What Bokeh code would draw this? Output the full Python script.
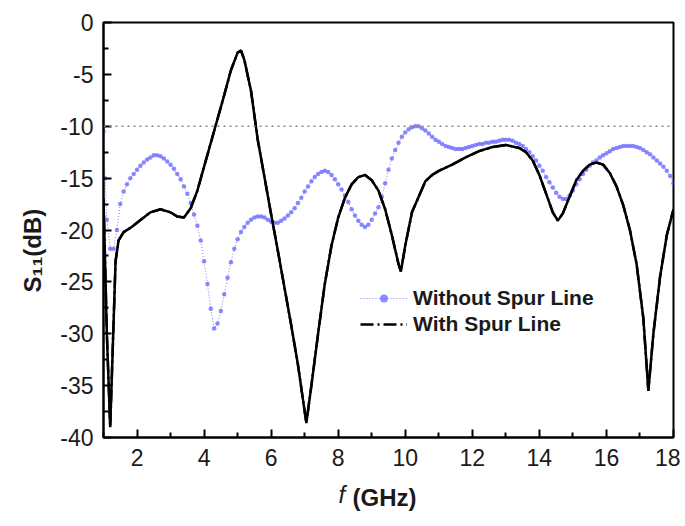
from bokeh.plotting import figure
from bokeh.models import (Range1d, Legend, LegendItem, Span, Label, FixedTicker,
                          ColumnDataSource, Title)
from bokeh.embed import file_html
from bokeh.resources import INLINE

# ---------------- data ----------------
freq_without = [1.0, 1.05, 1.1, 1.2, 1.3, 1.4, 1.5, 1.6, 1.7, 1.8, 1.9,
                2.0, 2.1, 2.2, 2.3, 2.4, 2.5, 2.6, 2.7, 2.8, 2.9,
                3.0, 3.1, 3.2, 3.3, 3.4, 3.5, 3.6, 3.7, 3.8, 3.9,
                4.0, 4.1, 4.2, 4.3, 4.4, 4.5, 4.6, 4.7, 4.8, 4.9,
                5.0, 5.1, 5.2, 5.3, 5.4, 5.5, 5.6, 5.7, 5.8, 5.9,
                6.0, 6.1, 6.2, 6.3, 6.4, 6.5, 6.6, 6.7, 6.8, 6.9,
                7.0, 7.1, 7.2, 7.3, 7.4, 7.5, 7.6, 7.7, 7.8, 7.9,
                8.0, 8.1, 8.2, 8.3, 8.4, 8.5, 8.6, 8.7, 8.8, 8.9,
                9.0, 9.1, 9.2, 9.3, 9.4, 9.5, 9.6, 9.7, 9.8, 9.9,
                10.0, 10.1, 10.2, 10.3, 10.4, 10.5, 10.6, 10.7, 10.8, 10.9,
                11.0, 11.1, 11.2, 11.3, 11.4, 11.5, 11.6, 11.7, 11.8, 11.9,
                12.0, 12.1, 12.2, 12.3, 12.4, 12.5, 12.6, 12.7, 12.8, 12.9,
                13.0, 13.1, 13.2, 13.3, 13.4, 13.5, 13.6, 13.7, 13.8, 13.9,
                14.0, 14.1, 14.2, 14.3, 14.4, 14.5, 14.6, 14.7, 14.8, 14.9,
                15.0, 15.1, 15.2, 15.3, 15.4, 15.5, 15.6, 15.7, 15.8, 15.9,
                16.0, 16.1, 16.2, 16.3, 16.4, 16.5, 16.6, 16.7, 16.8, 16.9,
                17.0, 17.1, 17.2, 17.3, 17.4, 17.5, 17.6, 17.7, 17.8, 17.9,
                18.0]
s11_without = [-10.5, -15.0, -19.0, -21.8, -21.8, -20.0, -17.5, -16.3, -15.6, -15.0, -14.6,
               -14.2, -13.8, -13.5, -13.2, -13.0, -12.8, -12.8, -12.9, -13.1, -13.4,
               -13.7, -14.1, -14.6, -15.1, -15.8, -16.5, -17.4, -18.5, -19.6, -21.0,
               -23.0, -25.2, -27.6, -29.5, -29.0, -27.8, -26.2, -24.6, -23.1, -21.8,
               -20.9, -20.2, -19.7, -19.3, -19.0, -18.8, -18.7, -18.7, -18.8, -19.0,
               -19.2, -19.3, -19.3, -19.1, -18.9, -18.6, -18.3, -17.9, -17.4, -16.9,
               -16.3, -15.8, -15.3, -14.9, -14.6, -14.4, -14.3, -14.4, -14.7, -15.1,
               -15.6, -16.1, -16.7, -17.3, -18.0, -18.6, -19.1, -19.5, -19.7, -19.5,
               -19.0, -18.4, -17.8, -16.8, -15.5, -14.2, -13.1, -12.3, -11.6, -11.0,
               -10.6, -10.3, -10.1, -10.0, -10.0, -10.2, -10.4, -10.7, -11.0, -11.3,
               -11.5, -11.7, -11.9, -12.0, -12.1, -12.2, -12.2, -12.2, -12.1, -12.0,
               -11.9, -11.8, -11.7, -11.7, -11.6, -11.6, -11.5, -11.5, -11.4, -11.3,
               -11.3, -11.3, -11.4, -11.6, -11.7, -11.9, -12.2, -12.5, -12.9, -13.3,
               -13.8, -14.3, -14.9, -15.4, -15.9, -16.4, -16.8, -17.0, -17.0, -16.7,
               -16.2, -15.6, -15.1, -14.6, -14.2, -13.8, -13.5, -13.3, -13.0, -12.8,
               -12.6, -12.4, -12.2, -12.1, -12.0, -11.9, -11.9, -11.9, -11.9, -12.0,
               -12.1, -12.3, -12.5, -12.7, -13.0, -13.3, -13.6, -13.9, -14.3, -14.8,
               -15.5]

freq_with = [1.0, 1.1, 1.2, 1.28, 1.36, 1.45, 1.6, 1.8, 2.0, 2.2, 2.4, 2.7,
             3.0, 3.2, 3.4, 3.6, 3.8, 4.0, 4.2, 4.4, 4.6, 4.8, 5.0, 5.1,
             5.2, 5.4, 5.6, 5.8, 6.0, 6.2, 6.4, 6.6, 6.8, 7.0, 7.05, 7.2,
             7.4, 7.6, 7.8, 8.0, 8.2, 8.4, 8.6, 8.8, 9.0, 9.2, 9.4, 9.6,
             9.8, 9.87, 10.0, 10.2, 10.4, 10.6, 10.8, 11.0, 11.4, 11.8, 12.2, 12.6,
             13.0, 13.4, 13.6, 13.8, 14.0, 14.2, 14.4, 14.55, 14.7, 14.9, 15.1, 15.3,
             15.5, 15.7, 15.9, 16.1, 16.3, 16.5, 16.7, 16.9, 17.1, 17.25, 17.4, 17.6,
             17.8, 18.0]
s11_with = [-17.0, -30.0, -39.0, -31.0, -23.0, -21.0, -20.2, -19.8, -19.3, -18.8, -18.3, -18.0,
            -18.3, -18.7, -18.8, -17.9, -16.2, -13.9, -11.6, -9.3, -7.0, -4.6, -2.9, -2.7,
            -3.6, -6.6, -11.3, -14.9, -18.5, -22.0, -25.6, -29.2, -33.0, -37.5, -38.6, -35.0,
            -30.0, -25.2, -21.5, -18.8, -16.9, -15.6, -14.9, -14.7, -15.2, -16.2, -18.0, -20.5,
            -23.3, -24.0, -21.5, -18.3, -16.8, -15.3, -14.7, -14.3, -13.7, -13.0, -12.4, -12.0,
            -11.8, -12.1, -12.5, -13.3, -14.7, -16.5, -18.3, -19.1, -18.4, -16.8, -15.2, -14.3,
            -13.7, -13.5, -13.7, -14.5, -15.8, -17.6, -20.0, -23.3, -28.5, -35.5, -30.0, -24.5,
            -20.5, -18.0]

reference_level = -10
x_major = [2, 4, 6, 8, 10, 12, 14, 16, 18]
x_minor = [1, 3, 5, 7, 9, 11, 13, 15, 17]
y_major = [0, -5, -10, -15, -20, -25, -30, -35, -40]
y_minor = [-2.5, -7.5, -12.5, -17.5, -22.5, -27.5, -32.5, -37.5]
series_names = ["Without Spur Line", "With Spur Line"]

FONT = "Liberation Sans"
TXT = "#1a1a1a"
W, H = 680, 522

p = figure(width=W, height=H, output_backend="svg", toolbar_location=None,
           x_range=Range1d(1, 18), y_range=Range1d(-40, 0),
           min_border_left=103, min_border_top=22, min_border_right=7,
           min_border_bottom=85)
p.xgrid.visible = False
p.ygrid.visible = False
p.outline_line_color = "black"
p.outline_line_width = 2
p.background_fill_color = "white"
p.border_fill_color = "white"

for ax in (p.xaxis[0], p.yaxis[0]):
    ax.axis_line_width = 2
    ax.axis_line_color = "black"
    ax.major_tick_in = 8
    ax.major_tick_out = 0
    ax.minor_tick_in = 5
    ax.minor_tick_out = 0
    ax.major_tick_line_width = 2
    ax.minor_tick_line_width = 2
    ax.major_tick_line_color = "black"
    ax.minor_tick_line_color = "black"
    ax.major_label_text_font = FONT
    ax.major_label_text_font_size = "23px"
    ax.major_label_text_color = TXT

p.xaxis.ticker = FixedTicker(ticks=x_major, minor_ticks=x_minor)
p.yaxis.ticker = FixedTicker(ticks=y_major, minor_ticks=y_minor)
p.xaxis.major_label_overrides = {t: str(t) for t in x_major}
p.yaxis.major_label_overrides = {t: str(t) for t in y_major}
p.xaxis.major_label_standoff = 11
p.yaxis.major_label_standoff = 10

# reference line at -10 dB
p.add_layout(Span(location=reference_level, dimension="width", line_color="#888888",
                  line_dash="2 4", line_width=1.5))

src_wo = ColumnDataSource(dict(x=freq_without, y=s11_without))
src_w = ColumnDataSource(dict(x=freq_with, y=s11_with))

blue_line = p.line("x", "y", source=src_wo, line_color="#7a7aff", line_width=1,
                   line_dash="1 2")
blue_pts = p.scatter("x", "y", source=src_wo, size=4.5, fill_color="#5a5aff",
                     fill_alpha=0.7, line_color=None)
# dash-dot style used by the legend; hidden under the solid curve drawn on top
legend_black = p.line("x", "y", source=src_w, line_color="black", line_width=2.5,
                      line_dash="13 4 2 4")
black_line = p.line("x", "y", source=src_w, line_color="black", line_width=2.5)

legend = Legend(items=[LegendItem(label=series_names[0], renderers=[blue_line, blue_pts]),
                       LegendItem(label=series_names[1], renderers=[legend_black])],
                location=(257, 100), border_line_color=None, background_fill_alpha=0,
                padding=0, margin=0, spacing=0, glyph_width=47, glyph_height=20,
                label_height=26, label_standoff=6, label_text_font=FONT,
                label_text_font_size="21px", label_text_font_style="bold",
                label_text_color=TXT)
p.add_layout(legend, "center")

# y-axis title
p.add_layout(Title(text="S₁₁(dB)", align="left", offset=145, standoff=24,
                   text_font=FONT, text_font_size="24px", text_font_style="bold",
                   text_color=TXT), "left")

# x-axis title: italic f and bold (GHz), in the panels below the axis
p.add_layout(Label(x=235, y=1, x_units="screen", y_units="screen", text="f",
                   text_align="left", text_baseline="middle",
                   text_font=FONT, text_font_size="24px", text_font_style="italic",
                   text_color=TXT), "below")
p.add_layout(Label(x=249, y=25, x_units="screen", y_units="screen", text="(GHz)",
                   text_align="left", text_baseline="middle",
                   text_font=FONT, text_font_size="24px", text_font_style="bold",
                   text_color=TXT), "below")

open("out.html", "w").write(file_html(p, INLINE))
